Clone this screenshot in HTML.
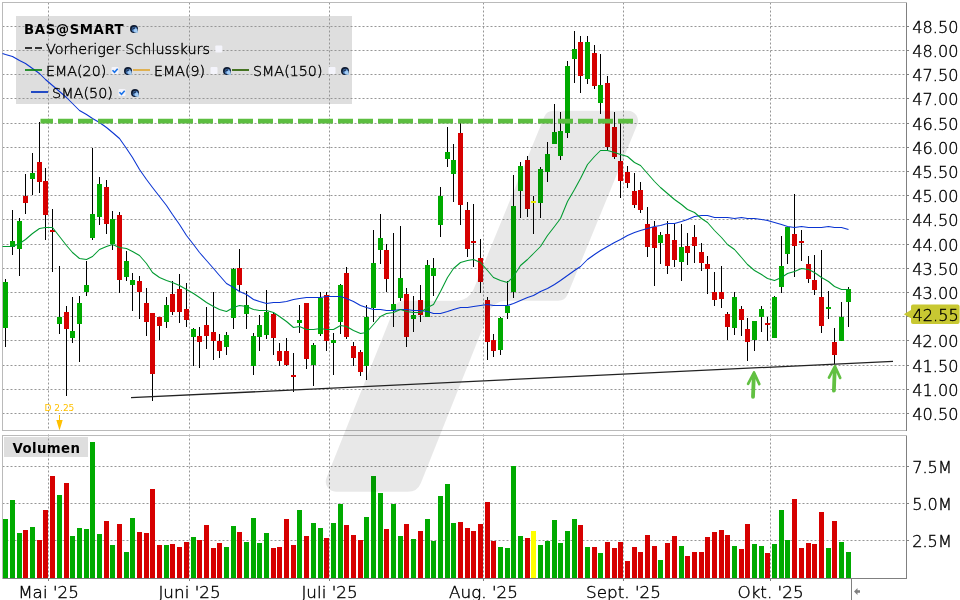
<!DOCTYPE html>
<html lang="de"><head><meta charset="utf-8"><title>BAS@SMART Chart</title>
<style>html,body{margin:0;padding:0;background:#fff;width:960px;height:600px;overflow:hidden}svg{display:block}</style></head>
<body>
<svg width="960" height="600" viewBox="0 0 960 600" font-family="'DejaVu Sans', 'Liberation Sans', sans-serif" role="img" aria-label="BAS@SMART Kerzenchart mit Volumen">
<rect x="0" y="0" width="960" height="600" fill="#ffffff"/>
<g shape-rendering="crispEdges">
<rect x="16" y="16" width="336" height="88" fill="#dedede"/>
<rect x="4" y="437" width="84" height="20" fill="#dedede"/>
</g>
<g stroke="#969696" stroke-width="1" stroke-dasharray="2 2" fill="none">
<line x1="2.5" y1="26.5" x2="906" y2="26.5"/>
<line x1="2.5" y1="50.5" x2="906" y2="50.5"/>
<line x1="2.5" y1="74.5" x2="906" y2="74.5"/>
<line x1="2.5" y1="98.5" x2="906" y2="98.5"/>
<line x1="2.5" y1="123.5" x2="906" y2="123.5"/>
<line x1="2.5" y1="147.5" x2="906" y2="147.5"/>
<line x1="2.5" y1="171.5" x2="906" y2="171.5"/>
<line x1="2.5" y1="195.5" x2="906" y2="195.5"/>
<line x1="2.5" y1="219.5" x2="906" y2="219.5"/>
<line x1="2.5" y1="244.5" x2="906" y2="244.5"/>
<line x1="2.5" y1="268.5" x2="906" y2="268.5"/>
<line x1="2.5" y1="292.5" x2="906" y2="292.5"/>
<line x1="2.5" y1="316.5" x2="906" y2="316.5"/>
<line x1="2.5" y1="340.5" x2="906" y2="340.5"/>
<line x1="2.5" y1="365.5" x2="906" y2="365.5"/>
<line x1="2.5" y1="389.5" x2="906" y2="389.5"/>
<line x1="2.5" y1="413.5" x2="906" y2="413.5"/>
<line x1="2.5" y1="466.5" x2="906" y2="466.5"/>
<line x1="2.5" y1="503.5" x2="906" y2="503.5"/>
<line x1="2.5" y1="540.5" x2="906" y2="540.5"/>
<line x1="48.5" y1="2.5" x2="48.5" y2="430"/>
<line x1="48.5" y1="434.5" x2="48.5" y2="578"/>
<line x1="189.5" y1="2.5" x2="189.5" y2="430"/>
<line x1="189.5" y1="434.5" x2="189.5" y2="578"/>
<line x1="329.5" y1="2.5" x2="329.5" y2="430"/>
<line x1="329.5" y1="434.5" x2="329.5" y2="578"/>
<line x1="483.5" y1="2.5" x2="483.5" y2="430"/>
<line x1="483.5" y1="434.5" x2="483.5" y2="578"/>
<line x1="623.5" y1="2.5" x2="623.5" y2="430"/>
<line x1="623.5" y1="434.5" x2="623.5" y2="578"/>
<line x1="770.5" y1="2.5" x2="770.5" y2="430"/>
<line x1="770.5" y1="434.5" x2="770.5" y2="578"/>
</g>
<g shape-rendering="crispEdges" fill="none" stroke-width="1">
<path d="M2.5,430.5 L2.5,2.5 L906.5,2.5" stroke="#bababa"/>
<path d="M2.5,430.5 L906.5,430.5" stroke="#bababa"/>
<path d="M2.5,578.5 L2.5,435.5 L906.5,435.5" stroke="#bababa"/>
<path d="M906.5,2.5 L906.5,430.5 M906.5,435.5 L906.5,578.5" stroke="#808080"/>
<path d="M2.5,578.5 L906.5,578.5" stroke="#808080"/>
<path d="M851.5,578.5 L851.5,600" stroke="#808080"/>
<path d="M907,26.5 L909,26.5 M907,50.5 L909,50.5 M907,74.5 L909,74.5 M907,98.5 L909,98.5 M907,123.5 L909,123.5 M907,147.5 L909,147.5 M907,171.5 L909,171.5 M907,195.5 L909,195.5 M907,219.5 L909,219.5 M907,244.5 L909,244.5 M907,268.5 L909,268.5 M907,292.5 L909,292.5 M907,316.5 L909,316.5 M907,340.5 L909,340.5 M907,365.5 L909,365.5 M907,389.5 L909,389.5 M907,413.5 L909,413.5 M907,466.5 L909,466.5 M907,503.5 L909,503.5 M907,540.5 L909,540.5 M48.5,579 L48.5,581 M189.5,579 L189.5,581 M329.5,579 L329.5,581 M483.5,579 L483.5,581 M623.5,579 L623.5,581 M770.5,579 L770.5,581 " stroke="#808080"/>
</g>
<g shape-rendering="crispEdges">
<rect x="3" y="519" width="5" height="59" fill="#00aa00"/>
<rect x="10" y="500" width="5" height="78" fill="#00aa00"/>
<rect x="17" y="533" width="5" height="45" fill="#00aa00"/>
<rect x="23" y="530" width="5" height="48" fill="#d60000"/>
<rect x="30" y="527" width="5" height="51" fill="#00aa00"/>
<rect x="37" y="540" width="5" height="38" fill="#d60000"/>
<rect x="43" y="510" width="5" height="68" fill="#d60000"/>
<rect x="50" y="476" width="5" height="102" fill="#d60000"/>
<rect x="57" y="495" width="5" height="83" fill="#00aa00"/>
<rect x="64" y="483" width="5" height="95" fill="#d60000"/>
<rect x="70" y="536" width="5" height="42" fill="#00aa00"/>
<rect x="77" y="528" width="5" height="50" fill="#00aa00"/>
<rect x="84" y="529" width="5" height="49" fill="#00aa00"/>
<rect x="90" y="442" width="5" height="136" fill="#00aa00"/>
<rect x="97" y="534" width="5" height="44" fill="#00aa00"/>
<rect x="104" y="521" width="5" height="57" fill="#d60000"/>
<rect x="110" y="545" width="5" height="33" fill="#00aa00"/>
<rect x="117" y="524" width="5" height="54" fill="#d60000"/>
<rect x="124" y="552" width="5" height="26" fill="#00aa00"/>
<rect x="130" y="518" width="5" height="60" fill="#00aa00"/>
<rect x="137" y="532" width="5" height="46" fill="#d60000"/>
<rect x="144" y="533" width="5" height="45" fill="#d60000"/>
<rect x="150" y="489" width="5" height="89" fill="#d60000"/>
<rect x="157" y="545" width="5" height="33" fill="#d60000"/>
<rect x="164" y="545" width="5" height="33" fill="#00aa00"/>
<rect x="170" y="544" width="5" height="34" fill="#d60000"/>
<rect x="177" y="547" width="5" height="31" fill="#d60000"/>
<rect x="184" y="542" width="5" height="36" fill="#d60000"/>
<rect x="191" y="537" width="5" height="41" fill="#00aa00"/>
<rect x="197" y="540" width="5" height="38" fill="#d60000"/>
<rect x="204" y="525" width="5" height="53" fill="#d60000"/>
<rect x="211" y="548" width="5" height="30" fill="#d60000"/>
<rect x="217" y="543" width="5" height="35" fill="#d60000"/>
<rect x="224" y="547" width="5" height="31" fill="#00aa00"/>
<rect x="231" y="526" width="5" height="52" fill="#00aa00"/>
<rect x="237" y="532" width="5" height="46" fill="#d60000"/>
<rect x="244" y="542" width="5" height="36" fill="#00aa00"/>
<rect x="251" y="518" width="5" height="60" fill="#00aa00"/>
<rect x="257" y="543" width="5" height="35" fill="#00aa00"/>
<rect x="264" y="533" width="5" height="45" fill="#00aa00"/>
<rect x="271" y="548" width="5" height="30" fill="#d60000"/>
<rect x="277" y="547" width="5" height="31" fill="#d60000"/>
<rect x="284" y="519" width="5" height="59" fill="#d60000"/>
<rect x="291" y="545" width="5" height="33" fill="#d60000"/>
<rect x="297" y="510" width="5" height="68" fill="#00aa00"/>
<rect x="304" y="536" width="5" height="42" fill="#d60000"/>
<rect x="311" y="523" width="5" height="55" fill="#00aa00"/>
<rect x="318" y="528" width="5" height="50" fill="#00aa00"/>
<rect x="324" y="538" width="5" height="40" fill="#d60000"/>
<rect x="331" y="523" width="5" height="55" fill="#00aa00"/>
<rect x="338" y="504" width="5" height="74" fill="#00aa00"/>
<rect x="344" y="525" width="5" height="53" fill="#d60000"/>
<rect x="351" y="535" width="5" height="43" fill="#d60000"/>
<rect x="358" y="540" width="5" height="38" fill="#d60000"/>
<rect x="364" y="517" width="5" height="61" fill="#00aa00"/>
<rect x="371" y="476" width="5" height="102" fill="#00aa00"/>
<rect x="378" y="493" width="5" height="85" fill="#00aa00"/>
<rect x="384" y="529" width="5" height="49" fill="#d60000"/>
<rect x="391" y="504" width="5" height="74" fill="#00aa00"/>
<rect x="398" y="536" width="5" height="42" fill="#00aa00"/>
<rect x="404" y="524" width="5" height="54" fill="#d60000"/>
<rect x="411" y="539" width="5" height="39" fill="#00aa00"/>
<rect x="418" y="531" width="5" height="47" fill="#d60000"/>
<rect x="425" y="519" width="5" height="59" fill="#00aa00"/>
<rect x="431" y="541" width="5" height="37" fill="#00aa00"/>
<rect x="438" y="496" width="5" height="82" fill="#00aa00"/>
<rect x="445" y="484" width="5" height="94" fill="#00aa00"/>
<rect x="451" y="523" width="5" height="55" fill="#00aa00"/>
<rect x="458" y="522" width="5" height="56" fill="#d60000"/>
<rect x="465" y="528" width="5" height="50" fill="#d60000"/>
<rect x="471" y="531" width="5" height="47" fill="#d60000"/>
<rect x="478" y="524" width="5" height="54" fill="#d60000"/>
<rect x="485" y="502" width="5" height="76" fill="#d60000"/>
<rect x="491" y="541" width="5" height="37" fill="#d60000"/>
<rect x="498" y="547" width="5" height="31" fill="#00aa00"/>
<rect x="505" y="548" width="5" height="30" fill="#00aa00"/>
<rect x="511" y="466" width="5" height="112" fill="#00aa00"/>
<rect x="518" y="536" width="5" height="42" fill="#00aa00"/>
<rect x="525" y="538" width="5" height="40" fill="#d60000"/>
<rect x="531" y="531" width="5" height="47" fill="#ffff00"/>
<rect x="538" y="545" width="5" height="33" fill="#00aa00"/>
<rect x="545" y="541" width="5" height="37" fill="#00aa00"/>
<rect x="552" y="520" width="5" height="58" fill="#00aa00"/>
<rect x="558" y="543" width="5" height="35" fill="#00aa00"/>
<rect x="565" y="531" width="5" height="47" fill="#00aa00"/>
<rect x="572" y="519" width="5" height="59" fill="#00aa00"/>
<rect x="578" y="525" width="5" height="53" fill="#d60000"/>
<rect x="585" y="547" width="5" height="31" fill="#00aa00"/>
<rect x="592" y="547" width="5" height="31" fill="#d60000"/>
<rect x="598" y="553" width="5" height="25" fill="#00aa00"/>
<rect x="605" y="542" width="5" height="36" fill="#d60000"/>
<rect x="612" y="548" width="5" height="30" fill="#d60000"/>
<rect x="618" y="542" width="5" height="36" fill="#d60000"/>
<rect x="625" y="561" width="5" height="17" fill="#d60000"/>
<rect x="632" y="547" width="5" height="31" fill="#d60000"/>
<rect x="638" y="552" width="5" height="26" fill="#d60000"/>
<rect x="645" y="535" width="5" height="43" fill="#d60000"/>
<rect x="652" y="546" width="5" height="32" fill="#d60000"/>
<rect x="658" y="560" width="5" height="18" fill="#00aa00"/>
<rect x="665" y="543" width="5" height="35" fill="#d60000"/>
<rect x="672" y="536" width="5" height="42" fill="#d60000"/>
<rect x="679" y="546" width="5" height="32" fill="#00aa00"/>
<rect x="685" y="556" width="5" height="22" fill="#d60000"/>
<rect x="692" y="552" width="5" height="26" fill="#d60000"/>
<rect x="699" y="552" width="5" height="26" fill="#d60000"/>
<rect x="705" y="537" width="5" height="41" fill="#d60000"/>
<rect x="712" y="532" width="5" height="46" fill="#d60000"/>
<rect x="719" y="530" width="5" height="48" fill="#d60000"/>
<rect x="725" y="535" width="5" height="43" fill="#d60000"/>
<rect x="732" y="546" width="5" height="32" fill="#00aa00"/>
<rect x="739" y="549" width="5" height="29" fill="#d60000"/>
<rect x="745" y="524" width="5" height="54" fill="#d60000"/>
<rect x="752" y="544" width="5" height="34" fill="#00aa00"/>
<rect x="759" y="546" width="5" height="32" fill="#00aa00"/>
<rect x="765" y="553" width="5" height="25" fill="#d60000"/>
<rect x="772" y="544" width="5" height="34" fill="#00aa00"/>
<rect x="779" y="510" width="5" height="68" fill="#00aa00"/>
<rect x="785" y="540" width="5" height="38" fill="#00aa00"/>
<rect x="792" y="499" width="5" height="79" fill="#d60000"/>
<rect x="799" y="548" width="5" height="30" fill="#d60000"/>
<rect x="806" y="543" width="5" height="35" fill="#d60000"/>
<rect x="812" y="544" width="5" height="34" fill="#d60000"/>
<rect x="819" y="512" width="5" height="66" fill="#d60000"/>
<rect x="826" y="548" width="5" height="30" fill="#00aa00"/>
<rect x="832" y="521" width="5" height="57" fill="#d60000"/>
<rect x="839" y="542" width="5" height="36" fill="#00aa00"/>
<rect x="846" y="552" width="5" height="26" fill="#00aa00"/>
</g>
<g shape-rendering="crispEdges">
<rect x="5" y="279" width="1" height="68" fill="#000"/>
<rect x="3" y="282" width="5" height="46" fill="#00aa00"/>
<rect x="12" y="210" width="1" height="45" fill="#000"/>
<rect x="10" y="241" width="5" height="6" fill="#00aa00"/>
<rect x="19" y="218" width="1" height="58" fill="#000"/>
<rect x="17" y="221" width="5" height="28" fill="#00aa00"/>
<rect x="25" y="174" width="1" height="40" fill="#000"/>
<rect x="23" y="196" width="5" height="7" fill="#d60000"/>
<rect x="32" y="153" width="1" height="42" fill="#000"/>
<rect x="30" y="173" width="5" height="6" fill="#00aa00"/>
<rect x="39" y="122" width="1" height="71" fill="#000"/>
<rect x="37" y="162" width="5" height="20" fill="#d60000"/>
<rect x="45" y="168" width="1" height="72" fill="#000"/>
<rect x="43" y="181" width="5" height="34" fill="#d60000"/>
<rect x="52" y="209" width="1" height="63" fill="#000"/>
<rect x="50" y="230" width="5" height="2" fill="#d60000"/>
<rect x="59" y="266" width="1" height="68" fill="#000"/>
<rect x="57" y="317" width="5" height="7" fill="#00aa00"/>
<rect x="66" y="306" width="1" height="90" fill="#000"/>
<rect x="64" y="312" width="5" height="17" fill="#d60000"/>
<rect x="72" y="297" width="1" height="46" fill="#000"/>
<rect x="70" y="331" width="5" height="7" fill="#00aa00"/>
<rect x="79" y="296" width="1" height="66" fill="#000"/>
<rect x="77" y="303" width="5" height="21" fill="#00aa00"/>
<rect x="86" y="261" width="1" height="35" fill="#000"/>
<rect x="84" y="285" width="5" height="7" fill="#00aa00"/>
<rect x="92" y="148" width="1" height="92" fill="#000"/>
<rect x="90" y="214" width="5" height="24" fill="#00aa00"/>
<rect x="99" y="177" width="1" height="48" fill="#000"/>
<rect x="97" y="184" width="5" height="33" fill="#00aa00"/>
<rect x="106" y="180" width="1" height="54" fill="#000"/>
<rect x="104" y="187" width="5" height="37" fill="#d60000"/>
<rect x="112" y="211" width="1" height="39" fill="#000"/>
<rect x="110" y="219" width="5" height="25" fill="#00aa00"/>
<rect x="119" y="212" width="1" height="81" fill="#000"/>
<rect x="117" y="215" width="5" height="65" fill="#d60000"/>
<rect x="126" y="251" width="1" height="30" fill="#000"/>
<rect x="124" y="261" width="5" height="16" fill="#00aa00"/>
<rect x="132" y="273" width="1" height="38" fill="#000"/>
<rect x="130" y="280" width="5" height="5" fill="#00aa00"/>
<rect x="139" y="276" width="1" height="43" fill="#000"/>
<rect x="137" y="281" width="5" height="11" fill="#d60000"/>
<rect x="146" y="288" width="1" height="48" fill="#000"/>
<rect x="144" y="303" width="5" height="19" fill="#d60000"/>
<rect x="152" y="313" width="1" height="88" fill="#000"/>
<rect x="150" y="313" width="5" height="61" fill="#d60000"/>
<rect x="159" y="317" width="1" height="23" fill="#000"/>
<rect x="157" y="317" width="5" height="9" fill="#d60000"/>
<rect x="166" y="297" width="1" height="31" fill="#000"/>
<rect x="164" y="305" width="5" height="17" fill="#00aa00"/>
<rect x="172" y="281" width="1" height="34" fill="#000"/>
<rect x="170" y="294" width="5" height="18" fill="#d60000"/>
<rect x="179" y="274" width="1" height="49" fill="#000"/>
<rect x="177" y="289" width="5" height="23" fill="#d60000"/>
<rect x="186" y="283" width="1" height="44" fill="#000"/>
<rect x="184" y="309" width="5" height="11" fill="#d60000"/>
<rect x="193" y="328" width="1" height="38" fill="#000"/>
<rect x="191" y="329" width="5" height="8" fill="#00aa00"/>
<rect x="199" y="327" width="1" height="41" fill="#000"/>
<rect x="197" y="336" width="5" height="6" fill="#d60000"/>
<rect x="206" y="307" width="1" height="42" fill="#000"/>
<rect x="204" y="325" width="5" height="11" fill="#d60000"/>
<rect x="213" y="292" width="1" height="68" fill="#000"/>
<rect x="211" y="332" width="5" height="9" fill="#d60000"/>
<rect x="219" y="334" width="1" height="24" fill="#000"/>
<rect x="217" y="341" width="5" height="10" fill="#d60000"/>
<rect x="226" y="332" width="1" height="23" fill="#000"/>
<rect x="224" y="335" width="5" height="12" fill="#00aa00"/>
<rect x="233" y="268" width="1" height="61" fill="#000"/>
<rect x="231" y="269" width="5" height="49" fill="#00aa00"/>
<rect x="239" y="249" width="1" height="43" fill="#000"/>
<rect x="237" y="268" width="5" height="17" fill="#d60000"/>
<rect x="246" y="291" width="1" height="38" fill="#000"/>
<rect x="244" y="305" width="5" height="9" fill="#00aa00"/>
<rect x="253" y="333" width="1" height="42" fill="#000"/>
<rect x="251" y="336" width="5" height="30" fill="#00aa00"/>
<rect x="259" y="315" width="1" height="36" fill="#000"/>
<rect x="257" y="325" width="5" height="12" fill="#00aa00"/>
<rect x="266" y="290" width="1" height="49" fill="#000"/>
<rect x="264" y="312" width="5" height="23" fill="#00aa00"/>
<rect x="273" y="312" width="1" height="43" fill="#000"/>
<rect x="271" y="314" width="5" height="24" fill="#d60000"/>
<rect x="279" y="343" width="1" height="23" fill="#000"/>
<rect x="277" y="351" width="5" height="10" fill="#d60000"/>
<rect x="286" y="338" width="1" height="28" fill="#000"/>
<rect x="284" y="351" width="5" height="14" fill="#d60000"/>
<rect x="293" y="353" width="1" height="39" fill="#000"/>
<rect x="291" y="375" width="5" height="2" fill="#d60000"/>
<rect x="299" y="305" width="1" height="28" fill="#000"/>
<rect x="297" y="320" width="5" height="3" fill="#00aa00"/>
<rect x="306" y="303" width="1" height="66" fill="#000"/>
<rect x="304" y="303" width="5" height="56" fill="#d60000"/>
<rect x="313" y="343" width="1" height="43" fill="#000"/>
<rect x="311" y="345" width="5" height="20" fill="#00aa00"/>
<rect x="320" y="292" width="1" height="44" fill="#000"/>
<rect x="318" y="298" width="5" height="36" fill="#00aa00"/>
<rect x="326" y="292" width="1" height="59" fill="#000"/>
<rect x="324" y="295" width="5" height="46" fill="#d60000"/>
<rect x="333" y="333" width="1" height="42" fill="#000"/>
<rect x="331" y="340" width="5" height="3" fill="#00aa00"/>
<rect x="340" y="284" width="1" height="50" fill="#000"/>
<rect x="338" y="285" width="5" height="37" fill="#00aa00"/>
<rect x="346" y="267" width="1" height="72" fill="#000"/>
<rect x="344" y="273" width="5" height="64" fill="#d60000"/>
<rect x="353" y="342" width="1" height="24" fill="#000"/>
<rect x="351" y="346" width="5" height="12" fill="#d60000"/>
<rect x="360" y="350" width="1" height="26" fill="#000"/>
<rect x="358" y="352" width="5" height="20" fill="#d60000"/>
<rect x="366" y="305" width="1" height="75" fill="#000"/>
<rect x="364" y="317" width="5" height="49" fill="#00aa00"/>
<rect x="373" y="230" width="1" height="92" fill="#000"/>
<rect x="371" y="263" width="5" height="45" fill="#00aa00"/>
<rect x="380" y="214" width="1" height="50" fill="#000"/>
<rect x="378" y="238" width="5" height="12" fill="#00aa00"/>
<rect x="386" y="244" width="1" height="48" fill="#000"/>
<rect x="384" y="250" width="5" height="29" fill="#d60000"/>
<rect x="393" y="233" width="1" height="94" fill="#000"/>
<rect x="391" y="304" width="5" height="6" fill="#00aa00"/>
<rect x="400" y="226" width="1" height="75" fill="#000"/>
<rect x="398" y="278" width="5" height="20" fill="#00aa00"/>
<rect x="406" y="288" width="1" height="59" fill="#000"/>
<rect x="404" y="294" width="5" height="43" fill="#d60000"/>
<rect x="413" y="296" width="1" height="36" fill="#000"/>
<rect x="411" y="315" width="5" height="4" fill="#00aa00"/>
<rect x="420" y="285" width="1" height="37" fill="#000"/>
<rect x="418" y="300" width="5" height="15" fill="#d60000"/>
<rect x="427" y="260" width="1" height="57" fill="#000"/>
<rect x="425" y="265" width="5" height="52" fill="#00aa00"/>
<rect x="433" y="258" width="1" height="38" fill="#000"/>
<rect x="431" y="268" width="5" height="8" fill="#00aa00"/>
<rect x="440" y="187" width="1" height="50" fill="#000"/>
<rect x="438" y="196" width="5" height="29" fill="#00aa00"/>
<rect x="447" y="127" width="1" height="40" fill="#000"/>
<rect x="445" y="152" width="5" height="7" fill="#00aa00"/>
<rect x="453" y="144" width="1" height="58" fill="#000"/>
<rect x="451" y="160" width="5" height="14" fill="#00aa00"/>
<rect x="460" y="123" width="1" height="102" fill="#000"/>
<rect x="458" y="133" width="5" height="72" fill="#d60000"/>
<rect x="467" y="202" width="1" height="55" fill="#000"/>
<rect x="465" y="210" width="5" height="39" fill="#d60000"/>
<rect x="473" y="204" width="1" height="63" fill="#000"/>
<rect x="471" y="241" width="5" height="2" fill="#d60000"/>
<rect x="480" y="239" width="1" height="54" fill="#000"/>
<rect x="478" y="258" width="5" height="24" fill="#d60000"/>
<rect x="487" y="297" width="1" height="63" fill="#000"/>
<rect x="485" y="300" width="5" height="42" fill="#d60000"/>
<rect x="493" y="334" width="1" height="23" fill="#000"/>
<rect x="491" y="340" width="5" height="11" fill="#d60000"/>
<rect x="500" y="317" width="1" height="38" fill="#000"/>
<rect x="498" y="318" width="5" height="32" fill="#00aa00"/>
<rect x="507" y="281" width="1" height="38" fill="#000"/>
<rect x="505" y="306" width="5" height="7" fill="#00aa00"/>
<rect x="513" y="175" width="1" height="123" fill="#000"/>
<rect x="511" y="206" width="5" height="86" fill="#00aa00"/>
<rect x="520" y="162" width="1" height="56" fill="#000"/>
<rect x="518" y="166" width="5" height="25" fill="#00aa00"/>
<rect x="527" y="156" width="1" height="61" fill="#000"/>
<rect x="525" y="160" width="5" height="49" fill="#d60000"/>
<rect x="533" y="196" width="1" height="38" fill="#000"/>
<rect x="531" y="201" width="5" height="2" fill="#ffff00"/>
<rect x="540" y="167" width="1" height="51" fill="#000"/>
<rect x="538" y="169" width="5" height="34" fill="#00aa00"/>
<rect x="547" y="142" width="1" height="40" fill="#000"/>
<rect x="545" y="154" width="5" height="18" fill="#00aa00"/>
<rect x="554" y="104" width="1" height="40" fill="#000"/>
<rect x="552" y="132" width="5" height="12" fill="#00aa00"/>
<rect x="560" y="112" width="1" height="48" fill="#000"/>
<rect x="558" y="131" width="5" height="25" fill="#00aa00"/>
<rect x="567" y="61" width="1" height="77" fill="#000"/>
<rect x="565" y="66" width="5" height="67" fill="#00aa00"/>
<rect x="574" y="31" width="1" height="52" fill="#000"/>
<rect x="572" y="49" width="5" height="10" fill="#00aa00"/>
<rect x="580" y="36" width="1" height="57" fill="#000"/>
<rect x="578" y="42" width="5" height="34" fill="#d60000"/>
<rect x="587" y="36" width="1" height="48" fill="#000"/>
<rect x="585" y="42" width="5" height="37" fill="#00aa00"/>
<rect x="594" y="45" width="1" height="44" fill="#000"/>
<rect x="592" y="53" width="5" height="33" fill="#d60000"/>
<rect x="600" y="54" width="1" height="60" fill="#000"/>
<rect x="598" y="85" width="5" height="18" fill="#00aa00"/>
<rect x="607" y="76" width="1" height="74" fill="#000"/>
<rect x="605" y="83" width="5" height="64" fill="#d60000"/>
<rect x="614" y="112" width="1" height="47" fill="#000"/>
<rect x="612" y="127" width="5" height="30" fill="#d60000"/>
<rect x="620" y="123" width="1" height="75" fill="#000"/>
<rect x="618" y="161" width="5" height="20" fill="#d60000"/>
<rect x="627" y="166" width="1" height="22" fill="#000"/>
<rect x="625" y="172" width="5" height="11" fill="#d60000"/>
<rect x="634" y="173" width="1" height="35" fill="#000"/>
<rect x="632" y="191" width="5" height="14" fill="#d60000"/>
<rect x="640" y="182" width="1" height="31" fill="#000"/>
<rect x="638" y="190" width="5" height="20" fill="#d60000"/>
<rect x="647" y="207" width="1" height="50" fill="#000"/>
<rect x="645" y="224" width="5" height="23" fill="#d60000"/>
<rect x="654" y="221" width="1" height="65" fill="#000"/>
<rect x="652" y="227" width="5" height="21" fill="#d60000"/>
<rect x="660" y="232" width="1" height="32" fill="#000"/>
<rect x="658" y="235" width="5" height="8" fill="#00aa00"/>
<rect x="667" y="221" width="1" height="53" fill="#000"/>
<rect x="665" y="234" width="5" height="32" fill="#d60000"/>
<rect x="674" y="224" width="1" height="43" fill="#000"/>
<rect x="672" y="240" width="5" height="20" fill="#d60000"/>
<rect x="681" y="224" width="1" height="57" fill="#000"/>
<rect x="679" y="247" width="5" height="15" fill="#00aa00"/>
<rect x="687" y="233" width="1" height="32" fill="#000"/>
<rect x="685" y="246" width="5" height="7" fill="#d60000"/>
<rect x="694" y="225" width="1" height="38" fill="#000"/>
<rect x="692" y="237" width="5" height="9" fill="#d60000"/>
<rect x="701" y="243" width="1" height="28" fill="#000"/>
<rect x="699" y="252" width="5" height="11" fill="#d60000"/>
<rect x="707" y="256" width="1" height="38" fill="#000"/>
<rect x="705" y="264" width="5" height="5" fill="#d60000"/>
<rect x="714" y="272" width="1" height="34" fill="#000"/>
<rect x="712" y="292" width="5" height="8" fill="#d60000"/>
<rect x="721" y="266" width="1" height="42" fill="#000"/>
<rect x="719" y="292" width="5" height="7" fill="#d60000"/>
<rect x="727" y="312" width="1" height="28" fill="#000"/>
<rect x="725" y="314" width="5" height="13" fill="#d60000"/>
<rect x="734" y="292" width="1" height="43" fill="#000"/>
<rect x="732" y="297" width="5" height="31" fill="#00aa00"/>
<rect x="741" y="306" width="1" height="30" fill="#000"/>
<rect x="739" y="309" width="5" height="11" fill="#d60000"/>
<rect x="747" y="318" width="1" height="43" fill="#000"/>
<rect x="745" y="329" width="5" height="13" fill="#d60000"/>
<rect x="754" y="321" width="1" height="30" fill="#000"/>
<rect x="752" y="321" width="5" height="19" fill="#00aa00"/>
<rect x="761" y="306" width="1" height="26" fill="#000"/>
<rect x="759" y="309" width="5" height="8" fill="#00aa00"/>
<rect x="767" y="317" width="1" height="24" fill="#000"/>
<rect x="765" y="323" width="5" height="2" fill="#d60000"/>
<rect x="774" y="296" width="1" height="42" fill="#000"/>
<rect x="772" y="297" width="5" height="41" fill="#00aa00"/>
<rect x="781" y="236" width="1" height="57" fill="#000"/>
<rect x="779" y="266" width="5" height="21" fill="#00aa00"/>
<rect x="787" y="227" width="1" height="37" fill="#000"/>
<rect x="785" y="227" width="5" height="27" fill="#00aa00"/>
<rect x="794" y="194" width="1" height="83" fill="#000"/>
<rect x="792" y="234" width="5" height="12" fill="#d60000"/>
<rect x="801" y="230" width="1" height="31" fill="#000"/>
<rect x="799" y="241" width="5" height="2" fill="#d60000"/>
<rect x="808" y="256" width="1" height="27" fill="#000"/>
<rect x="806" y="264" width="5" height="15" fill="#d60000"/>
<rect x="814" y="255" width="1" height="40" fill="#000"/>
<rect x="812" y="280" width="5" height="10" fill="#d60000"/>
<rect x="821" y="250" width="1" height="83" fill="#000"/>
<rect x="819" y="297" width="5" height="29" fill="#d60000"/>
<rect x="828" y="291" width="1" height="28" fill="#000"/>
<rect x="826" y="307" width="5" height="2" fill="#00aa00"/>
<rect x="834" y="328" width="1" height="36" fill="#000"/>
<rect x="832" y="342" width="5" height="13" fill="#d60000"/>
<rect x="841" y="302" width="1" height="39" fill="#000"/>
<rect x="839" y="317" width="5" height="24" fill="#00aa00"/>
<rect x="848" y="287" width="1" height="40" fill="#000"/>
<rect x="846" y="289" width="5" height="13" fill="#00aa00"/>
</g>
<path d="M544.16,117.01 A10.00,10.00 0 0 1 553.41,110.80 L628.08,110.80 A10.00,10.00 0 0 1 637.34,124.60 L567.55,294.60 A10.00,10.00 0 0 1 558.30,300.80 L505.89,300.80 A18.00,18.00 0 0 0 489.18,312.12 L420.92,482.90 A14.00,14.00 0 0 1 407.92,491.70 L335.77,491.70 A10.00,10.00 0 0 1 326.48,477.99 L394.79,307.09 A10.00,10.00 0 0 1 404.07,300.80 L456.73,300.80 A18.00,18.00 0 0 0 473.38,289.63 Z" fill="#000" fill-opacity="0.09"/>
<polyline points="2.5,53.5 5.5,54.5 12.5,56.5 19.5,60.5 25.5,63.5 32.5,68.5 39.5,73.5 45.5,79.5 52.5,85.5 59.5,91.5 66.5,97.5 72.5,103.5 79.5,110.5 86.5,114.5 92.5,118.5 99.5,122.5 106.5,127.5 112.5,132.5 119.5,138.5 126.5,148.5 132.5,157.5 139.5,169.5 146.5,179.5 152.5,187.5 159.5,196.5 166.5,205.5 172.5,214.5 179.5,224.5 186.5,235.5 193.5,244.5 199.5,252.5 206.5,260.5 213.5,268.5 219.5,275.5 226.5,283.5 233.5,287.5 239.5,291.5 246.5,294.5 253.5,299.5 259.5,301.5 266.5,303.5 273.5,302.5 279.5,302.5 286.5,301.5 293.5,299.5 299.5,298.5 306.5,297.5 313.5,297.5 320.5,297.5 326.5,296.5 333.5,296.5 340.5,296.5 346.5,298.5 353.5,301.5 360.5,305.5 366.5,307.5 373.5,309.5 380.5,309.5 386.5,310.5 393.5,310.5 400.5,309.5 406.5,309.5 413.5,310.5 420.5,310.5 427.5,311.5 433.5,313.5 440.5,313.5 447.5,311.5 453.5,309.5 460.5,307.5 467.5,307.5 473.5,306.5 480.5,305.5 487.5,304.5 493.5,305.5 500.5,305.5 507.5,305.5 513.5,303.5 520.5,300.5 527.5,297.5 533.5,295.5 540.5,291.5 547.5,288.5 554.5,284.5 560.5,280.5 567.5,275.5 574.5,270.5 580.5,266.5 587.5,259.5 594.5,254.5 600.5,250.5 607.5,246.5 614.5,242.5 620.5,239.5 627.5,235.5 634.5,232.5 640.5,230.5 647.5,228.5 654.5,226.5 660.5,225.5 667.5,223.5 674.5,223.5 681.5,221.5 687.5,219.5 694.5,216.5 701.5,215.5 707.5,215.5 714.5,217.5 721.5,217.5 727.5,217.5 734.5,218.5 741.5,217.5 747.5,218.5 754.5,218.5 761.5,219.5 767.5,220.5 774.5,222.5 781.5,224.5 787.5,226.5 794.5,227.5 801.5,226.5 808.5,227.5 814.5,227.5 821.5,227.5 828.5,226.5 834.5,227.5 841.5,227.5 848.5,229.5" fill="none" stroke="#0a34d2" stroke-width="1.05" stroke-linejoin="round"/>
<polyline points="2.5,246.5 5.5,246.5 12.5,246.5 19.5,243.5 25.5,239.5 32.5,233.5 39.5,228.5 45.5,227.5 52.5,227.5 59.5,236.5 66.5,245.5 72.5,252.5 79.5,258.5 86.5,259.5 92.5,256.5 99.5,249.5 106.5,246.5 112.5,244.5 119.5,247.5 126.5,248.5 132.5,251.5 139.5,255.5 146.5,263.5 152.5,272.5 159.5,277.5 166.5,280.5 172.5,282.5 179.5,285.5 186.5,289.5 193.5,293.5 199.5,297.5 206.5,302.5 213.5,306.5 219.5,309.5 226.5,311.5 233.5,307.5 239.5,305.5 246.5,306.5 253.5,309.5 259.5,310.5 266.5,310.5 273.5,312.5 279.5,316.5 286.5,321.5 293.5,327.5 299.5,326.5 306.5,329.5 313.5,329.5 320.5,328.5 326.5,329.5 333.5,329.5 340.5,325.5 346.5,326.5 353.5,330.5 360.5,333.5 366.5,332.5 373.5,324.5 380.5,316.5 386.5,313.5 393.5,312.5 400.5,309.5 406.5,311.5 413.5,312.5 420.5,312.5 427.5,307.5 433.5,304.5 440.5,291.5 447.5,277.5 453.5,268.5 460.5,262.5 467.5,260.5 473.5,259.5 480.5,262.5 487.5,270.5 493.5,277.5 500.5,280.5 507.5,282.5 513.5,276.5 520.5,265.5 527.5,259.5 533.5,253.5 540.5,246.5 547.5,235.5 554.5,226.5 560.5,218.5 567.5,201.5 574.5,189.5 580.5,178.5 587.5,164.5 594.5,156.5 600.5,150.5 607.5,150.5 614.5,152.5 620.5,154.5 627.5,156.5 634.5,162.5 640.5,165.5 647.5,173.5 654.5,181.5 660.5,187.5 667.5,193.5 674.5,199.5 681.5,204.5 687.5,209.5 694.5,212.5 701.5,218.5 707.5,222.5 714.5,230.5 721.5,237.5 727.5,244.5 734.5,249.5 741.5,257.5 747.5,264.5 754.5,270.5 761.5,274.5 767.5,278.5 774.5,280.5 781.5,277.5 787.5,273.5 794.5,271.5 801.5,268.5 808.5,269.5 814.5,272.5 821.5,277.5 828.5,281.5 834.5,286.5 841.5,289.5 848.5,289.5" fill="none" stroke="#009a30" stroke-width="1.05" stroke-linejoin="round"/>
<line x1="131" y1="397.7" x2="893" y2="361.3" stroke="#222" stroke-width="1.3"/>
<clipPath id="cl"><rect x="40.5" y="110" width="600" height="20"/></clipPath>
<line x1="38" y1="121.2" x2="633" y2="121.2" stroke="#5cbe40" stroke-width="4.8" stroke-dasharray="15 5" clip-path="url(#cl)"/>
<g fill="none" stroke="#62c042" stroke-linecap="round" stroke-linejoin="round"><path d="M753.0,396.9 L753.8,376.0" stroke-width="3.8"/><path d="M748.1,383.8 L754.0,372.5 L759.3,384.1" stroke-width="2.7"/><path d="M754.0,372.0 L750.8,379.0 L757.0,379.0 Z" fill="#62c042" stroke-width="0.6"/></g>
<g fill="none" stroke="#62c042" stroke-linecap="round" stroke-linejoin="round"><path d="M833.9,390.7 L834.7,369.8" stroke-width="3.8"/><path d="M829.0,377.6 L834.9,366.3 L840.2,377.9" stroke-width="2.7"/><path d="M834.9,365.8 L831.7,372.8 L837.9,372.8 Z" fill="#62c042" stroke-width="0.6"/></g>
<text x="44.5" y="411" font-size="9" fill="#ffc000">D 2.25</text>
<path d="M59.5,415 L59.5,422" stroke="#ffc000" stroke-width="1" fill="none"/>
<path d="M56.3,420 L62.7,420 L59.5,430.5 Z" fill="#ffc000"/>
<path d="M903.8,314.2 L911,310 L911,306.4 Q911,304.4 913,304.4 L957.6,304.4 Q959.6,304.4 959.6,306.4 L959.6,322 Q959.6,324 957.6,324 L913,324 Q911,324 911,322 L911,318.3 Z" fill="#c8c832"/>
<g font-size="15" font-weight="200" fill="#000" stroke="#000" stroke-width="0.36">
<text transform="translate(912.2,32.5) scale(1.077,1)" text-anchor="start">48.50</text>
<text transform="translate(912.2,56.5) scale(1.077,1)" text-anchor="start">48.00</text>
<text transform="translate(912.2,80.5) scale(1.077,1)" text-anchor="start">47.50</text>
<text transform="translate(912.2,104.5) scale(1.077,1)" text-anchor="start">47.00</text>
<text transform="translate(912.2,129.5) scale(1.077,1)" text-anchor="start">46.50</text>
<text transform="translate(912.2,153.5) scale(1.077,1)" text-anchor="start">46.00</text>
<text transform="translate(912.2,177.5) scale(1.077,1)" text-anchor="start">45.50</text>
<text transform="translate(912.2,201.5) scale(1.077,1)" text-anchor="start">45.00</text>
<text transform="translate(912.2,225.5) scale(1.077,1)" text-anchor="start">44.50</text>
<text transform="translate(912.2,250.5) scale(1.077,1)" text-anchor="start">44.00</text>
<text transform="translate(912.2,274.5) scale(1.077,1)" text-anchor="start">43.50</text>
<text transform="translate(912.2,298.5) scale(1.077,1)" text-anchor="start">43.00</text>
<text transform="translate(912.2,346.5) scale(1.077,1)" text-anchor="start">42.00</text>
<text transform="translate(912.2,371.5) scale(1.077,1)" text-anchor="start">41.50</text>
<text transform="translate(912.2,395.5) scale(1.077,1)" text-anchor="start">41.00</text>
<text transform="translate(912.2,419.5) scale(1.077,1)" text-anchor="start">40.50</text>
<text transform="translate(912.5,321.3) scale(1.077,1)" text-anchor="start">42.55</text>
<text transform="translate(912.2,472.5) scale(1.077,1)" text-anchor="start">7.5M</text>
<text transform="translate(912.2,509.5) scale(1.077,1)" text-anchor="start">5.0M</text>
<text transform="translate(912.2,546.5) scale(1.077,1)" text-anchor="start">2.5M</text>
<text transform="translate(48.5,597.5) scale(1.12,1)" text-anchor="middle">Mai '25</text>
<text transform="translate(189.5,597.5) scale(1.12,1)" text-anchor="middle">Juni '25</text>
<text transform="translate(329.5,597.5) scale(1.12,1)" text-anchor="middle">Juli '25</text>
<text transform="translate(483.5,597.5) scale(1.12,1)" text-anchor="middle">Aug. '25</text>
<text transform="translate(623.5,597.5) scale(1.12,1)" text-anchor="middle">Sept. '25</text>
<text transform="translate(770.5,597.5) scale(1.12,1)" text-anchor="middle">Okt. '25</text>
</g>
<g font-size="13.3" fill="#000" font-weight="200" stroke="#000" stroke-width="0.38">
<text x="24.1" y="34" font-weight="bold" stroke="none" textLength="99.6" lengthAdjust="spacing">BAS@SMART</text>
<g transform="translate(130,25)" stroke="none"><circle cx="4" cy="4" r="4" fill="#0e1a30"/><circle cx="4.5" cy="4.5" r="2.8" fill="#4a7ab8"/><path d="M5.2,3.2 L7.4,4.2 L7.9,7.9 L4.6,7.6 L3.4,5.6 Z" fill="#a4cdf4"/><path d="M2.2,4.6 Q3.2,2.4 5,3" stroke="#0e1a30" stroke-width="1" fill="none"/></g>
<path d="M25,48 L32,48 M35,48 L42,48" stroke="#333" stroke-width="2" fill="none"/>
<text x="46" y="54" textLength="164" lengthAdjust="spacingAndGlyphs">Vorheriger Schlusskurs</text>
<rect x="215.3" y="45.5" width="7" height="7" fill="#f4f4fb" rx="1" stroke="none"/>
<path d="M25,70 L42,70" stroke="#0a8214" stroke-width="1.7" fill="none"/>
<text x="46" y="76" textLength="60.3" lengthAdjust="spacingAndGlyphs">EMA(20)</text>
<rect x="111.5" y="67" width="7" height="7" fill="#f4f4fb" rx="1" stroke="none"/><path d="M112.5,70.3 l2,2 l3.2,-3.6" fill="none" stroke="#1a73e8" stroke-width="1.6"/>
<g transform="translate(124,67)" stroke="none"><circle cx="4" cy="4" r="4" fill="#0e1a30"/><circle cx="4.5" cy="4.5" r="2.8" fill="#4a7ab8"/><path d="M5.2,3.2 L7.4,4.2 L7.9,7.9 L4.6,7.6 L3.4,5.6 Z" fill="#a4cdf4"/><path d="M2.2,4.6 Q3.2,2.4 5,3" stroke="#0e1a30" stroke-width="1" fill="none"/></g>
<path d="M133,70 L150,70" stroke="#e0a838" stroke-width="1.7" fill="none"/>
<text x="154" y="76" textLength="51" lengthAdjust="spacingAndGlyphs">EMA(9)</text>
<rect x="210.5" y="67" width="7" height="7" fill="#f4f4fb" rx="1" stroke="none"/>
<g transform="translate(223,67)" stroke="none"><circle cx="4" cy="4" r="4" fill="#0e1a30"/><circle cx="4.5" cy="4.5" r="2.8" fill="#4a7ab8"/><path d="M5.2,3.2 L7.4,4.2 L7.9,7.9 L4.6,7.6 L3.4,5.6 Z" fill="#a4cdf4"/><path d="M2.2,4.6 Q3.2,2.4 5,3" stroke="#0e1a30" stroke-width="1" fill="none"/></g>
<path d="M232,70 L249,70" stroke="#2a6000" stroke-width="1.7" fill="none"/>
<text x="253" y="76" textLength="69.5" lengthAdjust="spacingAndGlyphs">SMA(150)</text>
<rect x="328.5" y="67" width="7" height="7" fill="#f4f4fb" rx="1" stroke="none"/>
<g transform="translate(341,67)" stroke="none"><circle cx="4" cy="4" r="4" fill="#0e1a30"/><circle cx="4.5" cy="4.5" r="2.8" fill="#4a7ab8"/><path d="M5.2,3.2 L7.4,4.2 L7.9,7.9 L4.6,7.6 L3.4,5.6 Z" fill="#a4cdf4"/><path d="M2.2,4.6 Q3.2,2.4 5,3" stroke="#0e1a30" stroke-width="1" fill="none"/></g>
<path d="M31,92 L48,92" stroke="#0030c0" stroke-width="1.7" fill="none"/>
<text x="52" y="98" textLength="61" lengthAdjust="spacingAndGlyphs">SMA(50)</text>
<rect x="118.5" y="89" width="7" height="7" fill="#f4f4fb" rx="1" stroke="none"/><path d="M119.5,92.3 l2,2 l3.2,-3.6" fill="none" stroke="#1a73e8" stroke-width="1.6"/>
<g transform="translate(131,89)" stroke="none"><circle cx="4" cy="4" r="4" fill="#0e1a30"/><circle cx="4.5" cy="4.5" r="2.8" fill="#4a7ab8"/><path d="M5.2,3.2 L7.4,4.2 L7.9,7.9 L4.6,7.6 L3.4,5.6 Z" fill="#a4cdf4"/><path d="M2.2,4.6 Q3.2,2.4 5,3" stroke="#0e1a30" stroke-width="1" fill="none"/></g>
<text x="12.6" y="453" font-weight="bold" stroke="none" textLength="67.3" lengthAdjust="spacing">Volumen</text>
</g>
<path d="M854,591.5 L857.5,588 L857.5,590.3 L860,590.3 L860,592.7 L857.5,592.7 L857.5,595 Z" fill="#808080"/>
</svg>
</body></html>
